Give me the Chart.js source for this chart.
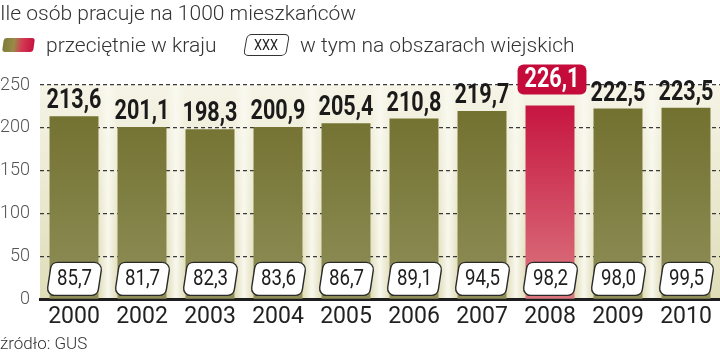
<!DOCTYPE html>
<html>
<head>
<meta charset="utf-8">
<script src="https://cdn.jsdelivr.net/npm/chart.js@4.4.1/dist/chart.umd.min.js"></script>
<style>
  html, body { margin: 0; padding: 0; background: #fff; }
  #wrap { position: relative; width: 720px; height: 355px; overflow: hidden; font-family: Roboto, 'Open Sans', sans-serif; }
  #chart { position: absolute; left: 0; top: 0; }
  .title { position: absolute; left: 0; top: 0; font-size: 21px; font-weight: 300; color: #333; white-space: nowrap; line-height: 26px; }
  .legend { position: absolute; left: 0; top: 32px; height: 26px; font-size: 21px; font-weight: 300; color: #333; white-space: nowrap; }
  .swatch { position: absolute; left: 3px; top: 6px; width: 31px; height: 14px; border-radius: 3px; transform: skewX(-8deg);
    background: linear-gradient(to right, #7d7c3a 0%, #9a8a48 35%, #d23c55 60%, #c8103e 100%); }
  .lbl1 { position: absolute; left: 46px; top: 0; line-height: 26px; }
  .xxx { position: absolute; left: 245px; top: 2px; width: 41px; height: 20px; border: 1.3px solid #333; border-radius: 5px; transform: skewX(-10deg);
    background: #fff; font-size: 15px; font-weight: 400; text-align: center; line-height: 20px; color: #222; }
  .xxx span { display: inline-block; transform: skewX(10deg) scaleX(0.85); }
  .lbl2 { position: absolute; left: 300px; top: 0; line-height: 26px; }
  .source { position: absolute; left: 0; top: 333px; font-size: 17px; font-weight: 300; color: #333; white-space: nowrap; }
</style>
</head>
<body>
<div id="wrap">
  <canvas id="chart" width="720" height="355"></canvas>
  <div class="title">Ile osób pracuje na 1000 mieszkańców</div>
  <div class="legend">
    <div class="swatch"></div>
    <div class="lbl1">przeciętnie w kraju</div>
    <div class="xxx"><span>XXX</span></div>
    <div class="lbl2">w tym na obszarach wiejskich</div>
  </div>
  <div class="source">źródło: GUS</div>
</div>
<script>
const years = ['2000', '2002', '2003', '2004', '2005', '2006', '2007', '2008', '2009', '2010'];
const totalValues = [213.6, 201.1, 198.3, 200.9, 205.4, 210.8, 219.7, 226.1, 222.5, 223.5];
const ruralValues = [85.7, 81.7, 82.3, 83.6, 86.7, 89.1, 94.5, 98.2, 98.0, 99.5];
const highlightYear = '2008';

const fmt = v => v.toFixed(1).replace('.', ',');

// no condensed face installed, so squeeze Roboto horizontally
function narrowText(ctx, text, x, y, font, squeeze) {
  ctx.save();
  ctx.font = font;
  ctx.translate(x, y);
  ctx.scale(squeeze, 1);
  ctx.fillText(text, 0, 0);
  ctx.restore();
}

function barFill(context) {
  const chart = context.chart;
  const area = chart.chartArea;
  if (!area) return '#767634';
  const isHot = years[context.dataIndex] === highlightYear;
  const g = chart.ctx.createLinearGradient(0, area.top, 0, area.bottom);
  if (isHot) {
    g.addColorStop(0, '#c40b3a');
    g.addColorStop(1, '#dc7880');
  } else {
    g.addColorStop(0, '#6f6e2b');
    g.addColorStop(1, '#8f8e58');
  }
  return g;
}

function roundRectPath(ctx, pts, r) {
  ctx.beginPath();
  const n = pts.length;
  ctx.moveTo((pts[0][0] + pts[1][0]) / 2, (pts[0][1] + pts[1][1]) / 2);
  for (let i = 1; i <= n; i++) {
    const p = pts[i % n];
    const q = pts[(i + 1) % n];
    ctx.arcTo(p[0], p[1], q[0], q[1], r);
  }
  ctx.closePath();
}

// cream background with lighter strips between bars
const backdrop = {
  id: 'backdrop',
  beforeDraw(chart) {
    const { ctx, chartArea: a } = chart;
    const xs = chart.scales.x;
    ctx.save();
    const g = ctx.createLinearGradient(0, a.top, 0, a.bottom);
    g.addColorStop(0, '#f5f4e6');
    g.addColorStop(1, '#e0ddb9');
    ctx.fillStyle = g;
    ctx.fillRect(a.left, a.top, a.right - a.left, a.bottom - a.top);
    const step = xs.getPixelForValue(1) - xs.getPixelForValue(0);
    for (let i = 0; i < years.length - 1; i++) {
      const mid = xs.getPixelForValue(i) + step / 2;
      const s = ctx.createLinearGradient(mid - 9, 0, mid + 9, 0);
      s.addColorStop(0, 'rgba(250,249,240,0)');
      s.addColorStop(0.5, 'rgba(250,249,240,0.95)');
      s.addColorStop(1, 'rgba(250,249,240,0)');
      ctx.fillStyle = s;
      ctx.fillRect(mid - 9, a.top, 18, a.bottom - a.top);
    }
    ctx.restore();
  }
};

const valueLabels = {
  id: 'valueLabels',
  afterDraw(chart) {
    const { ctx } = chart;
    const ys = chart.scales.y;
    const meta = chart.getDatasetMeta(0);
    const topFont = 'bold 27px Roboto, sans-serif';
    const sq = 0.8;
    ctx.save();
    meta.data.forEach((bar, i) => {
      const x = bar.x;
      const top = bar.y;
      const text = fmt(totalValues[i]);
      ctx.textAlign = 'center';
      if (years[i] === highlightYear) {
        ctx.font = topFont;
        const w = ctx.measureText(text).width * sq + 14;
        const h = 30;
        const bx = x - w / 2 + 2, by = top - 11 - h;
        roundRectPath(ctx, [[bx, by], [bx + w, by], [bx + w, by + h], [bx, by + h]], 6);
        ctx.fillStyle = '#c40b3a';
        ctx.fill();
        ctx.fillStyle = '#fff';
        ctx.textBaseline = 'middle';
        narrowText(ctx, text, bx + w / 2, by + h / 2 + 1, topFont, sq);
      } else {
        ctx.fillStyle = '#1a1a1a';
        ctx.textBaseline = 'alphabetic';
        narrowText(ctx, text, x, top - 8, topFont, sq);
      }

      // rural value box at the foot of each bar
      const base = ys.getPixelForValue(0);
      const bw = 56, bh = 33, sl = 5;
      const x0 = x - bw / 2 + 0.5, x1 = x + bw / 2 + 0.5;
      const y1 = base - 4, y0 = y1 - bh;
      roundRectPath(ctx, [[x0 + sl, y0], [x1, y0], [x1 - sl, y1], [x0, y1]], 7);
      ctx.fillStyle = '#ffffff';
      ctx.fill();
      ctx.lineWidth = 1.4;
      ctx.strokeStyle = '#2a2a2a';
      ctx.stroke();
      ctx.fillStyle = '#1e1e1e';
      ctx.textBaseline = 'middle';
      narrowText(ctx, fmt(ruralValues[i]), x + 0.5, (y0 + y1) / 2 + 1, '22px Roboto, sans-serif', 0.85);
    });
    ctx.restore();
  }
};

new Chart(document.getElementById('chart').getContext('2d'), {
  type: 'bar',
  data: {
    labels: years,
    datasets: [{
      data: totalValues,
      backgroundColor: barFill,
      borderWidth: 0,
      barPercentage: 0.72,
      categoryPercentage: 1
    }]
  },
  options: {
    responsive: false,
    animation: false,
    devicePixelRatio: 1,
    layout: { padding: { top: 85, right: 0, bottom: 20, left: 0 } },
    plugins: {
      legend: { display: false },
      title: { display: false },
      tooltip: { enabled: false }
    },
    scales: {
      x: {
        z: 1,
        grid: { display: false, drawTicks: false },
        border: { display: true, color: '#1e1e1e', width: 3 },
        ticks: { font: { family: 'Roboto', size: 23 }, color: '#222', padding: 4 }
      },
      y: {
        z: 1,
        min: 0,
        max: 250,
        afterFit: s => { s.width = 40; },
        ticks: { stepSize: 50, font: { family: 'Roboto', size: 18, weight: 300 }, color: '#555', padding: 10 },
        grid: {
          drawTicks: false,
          lineWidth: 1.3,
          color: c => (c.tick && c.tick.value === 0 ? 'rgba(0,0,0,0)' : '#3a3a3a')
        },
        border: { display: false, dash: [4, 3] }
      }
    }
  },
  plugins: [backdrop, valueLabels]
});
</script>
</body>
</html>
